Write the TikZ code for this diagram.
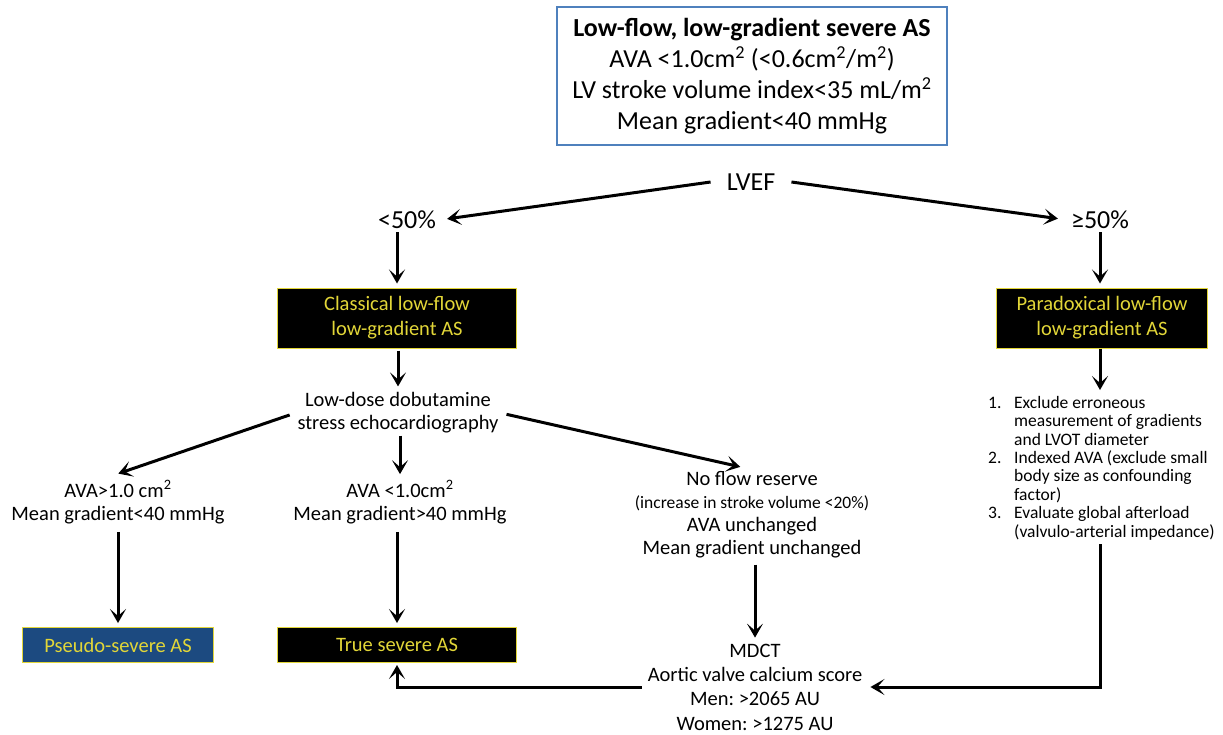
\documentclass[tikz,border=0pt]{standalone}
\usepackage{fontspec}
\setmainfont{Carlito}
\usetikzlibrary{arrows.meta,positioning}

\definecolor{frameblue}{RGB}{79,129,189}
\definecolor{asyellow}{RGB}{226,214,56}
\definecolor{pseudoblue}{RGB}{28,74,128}

\tikzset{
  arr/.style={-{Stealth[length=14pt,width=16pt,inset=7pt]},line width=3pt},
  asbox/.style={draw=asyellow,fill=black,text=asyellow,line width=1pt,
    align=center,inner sep=0pt,font=\fontsize{20.5}{25}\selectfont},
  txt/.style={align=center,inner sep=2pt,font=\fontsize{20.5}{23}\selectfont\frenchspacing},
  big/.style={align=center,inner sep=3pt,font=\fontsize{26}{28}\selectfont}
}

\begin{document}
\begin{tikzpicture}[x=1pt,y=-1pt]
\useasboundingbox (0,0) rectangle (1223,734);

% criteria
\node[draw=frameblue,line width=2.5pt,minimum width=390pt,minimum height=138pt,
  align=center,inner sep=0pt,font=\fontsize{26}{31}\selectfont] (crit) at (752,76)
  {\textbf{Low-flow, low-gradient severe AS}\\
   AVA <1.0cm\textsuperscript{2} (<0.6cm\textsuperscript{2}/m\textsuperscript{2})\\
   LV stroke volume index<35 mL/m\textsuperscript{2}\\
   Mean gradient<40 mmHg};

\node[big,inner xsep=16pt] (lvef) at (751,182) {LVEF};
\node[big] (low) at (407,220) {<50\%};
\node[big] (high) at (1100,220) {≥50\%};
\draw[arr,shorten >=8pt] (lvef.west) -- (low.east);
\draw[arr,shorten >=10pt] (lvef.east) -- (high.west);

% left branch
\node[asbox,minimum width=239pt,minimum height=60pt] (classic) at (397,318)
  {Classical low-flow\\low-gradient AS};
\draw[arr,shorten >=4pt] (low.south -| classic) -- (classic.north);
\node[txt] (dobu) at (398,413) {Low-dose dobutamine\\stress echocardiography};
\draw[arr,shorten >=4pt,shorten <=2pt] (classic.south -| dobu) -- (dobu.north);

\node[txt] (ava1) at (118,502) {AVA>1.0 cm\textsuperscript{2}\\Mean gradient<40 mmHg};
\node[txt] (ava2) at (400,502) {AVA <1.0cm\textsuperscript{2}\\Mean gradient>40 mmHg};
\node[txt] (noflow) at (752,515)
  {No flow reserve\\{\fontsize{17.5}{23}\selectfont(increase in stroke volume <20\%)}\\
   AVA unchanged\\Mean gradient unchanged};
\draw[arr,shorten <=6pt,shorten >=14pt] (dobu.west) -- ([xshift=-13pt]ava1.north);
\draw[arr,shorten >=4pt] (dobu.south -| ava2) -- (ava2.north);
\draw[arr,shorten <=6pt,shorten >=12pt] (dobu.east) -- (noflow.north);

\node[asbox,fill=pseudoblue,minimum width=191pt,minimum height=35pt] (pseudo) at (118,645)
  {Pseudo-severe AS};
\node[asbox,minimum width=239pt,minimum height=35pt] (truesev) at (397,645)
  {True severe AS};
\draw[arr,shorten <=6pt,shorten >=4pt] (ava1.south) -- (pseudo.north);
\draw[arr,shorten <=6pt,shorten >=4pt] (ava2.south -| truesev) -- (truesev.north);

\node[txt,font=\fontsize{20.5}{24.3}\selectfont\frenchspacing] (mdct) at (755,687)
  {MDCT\\Aortic valve calcium score\\Men: >2065 AU\\Women: >1275 AU};
\draw[arr,shorten <=4pt,shorten >=4pt] (noflow.south -| mdct) -- (mdct.north);
\draw[arr,shorten <=4pt,shorten >=2pt] (mdct.west) -| (truesev.south);

% right branch
\node[asbox,minimum width=211pt,minimum height=60pt] (paradox) at (1102,318)
  {Paradoxical low-flow\\low-gradient AS};
\draw[arr,shorten >=4pt] (high.south) -- (high.south |- paradox.north);
\node[anchor=north west,align=left,inner sep=0pt,font=\fontsize{17.5}{18.4}\selectfont]
  (steps) at (988,396)
  {\makebox[26pt][l]{1.}Exclude erroneous\\
   \hspace*{26pt}measurement of gradients\\
   \hspace*{26pt}and LVOT diameter\\
   \makebox[26pt][l]{2.}Indexed AVA (exclude small\\
   \hspace*{26pt}body size as confounding\\
   \hspace*{26pt}factor)\\
   \makebox[26pt][l]{3.}Evaluate global afterload\\
   \hspace*{26pt}(valvulo-arterial impedance)};
\draw[arr,shorten >=6pt] (paradox.south -| high) -- (steps.north -| high);
\draw[arr,shorten <=4pt,shorten >=6pt] (steps.south -| high) |- (mdct.east);
\end{tikzpicture}
\end{document}
